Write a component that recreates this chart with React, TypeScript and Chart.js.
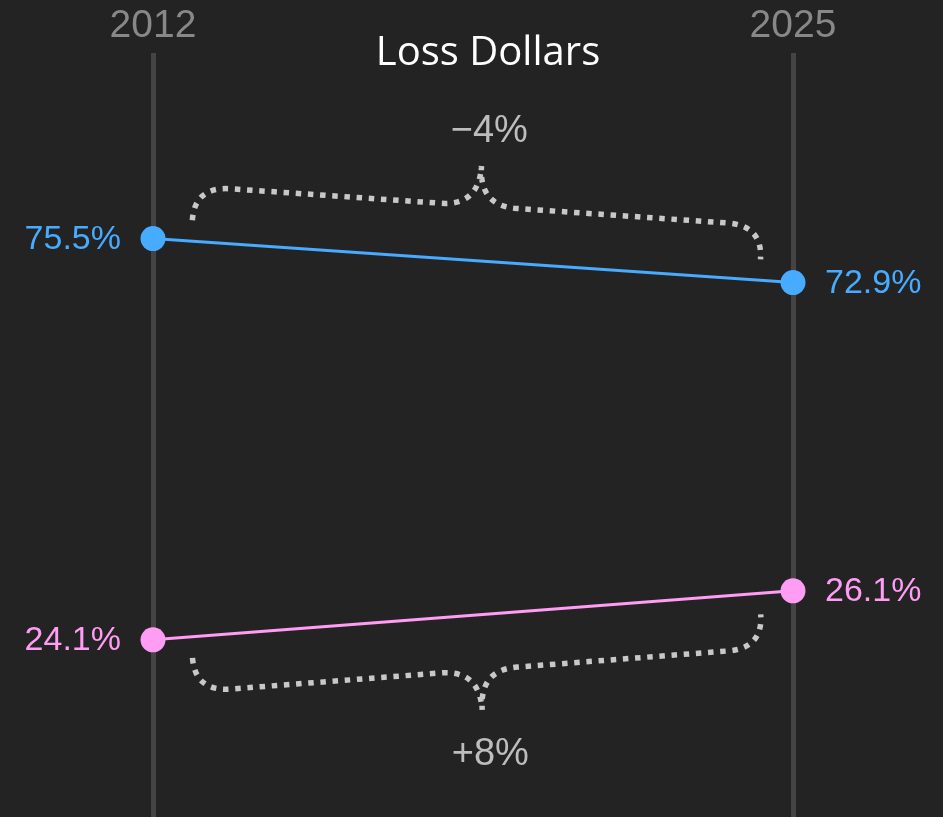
import React, { useEffect, useRef } from 'react';
import { Chart, registerables } from 'chart.js';

Chart.register(...registerables);

// ---- data ----
const years = ['2012', '2025'];
const seriesNames = ['Upper share', 'Lower share'];
const blueValues = [75.5, 72.9];
const pinkValues = [24.1, 26.1];
const changeLabels = ['\u22124%', '+8%'];
const chartTitle = 'Loss Dollars';

// ---- styles ----
const BG = '#232323';
const seriesColors = ['#47abff', '#ff9cf3'];
const seriesValues = [blueValues, pinkValues];
const braceSides = [-1, 1]; // -1: brace above the line, 1: below
const yLeftRange = [1.4, 99.3];
const yRightRange = [-8.25, 107.8];

function drawBrace(ctx: CanvasRenderingContext2D, P: any, Q: any, side: number, label: string) {
  const dx = Q.x - P.x;
  const dy = Q.y - P.y;
  const len = Math.hypot(dx, dy);
  const ux = dx / len;
  const uy = dy / len;
  const nx = side < 0 ? uy : -uy;
  const ny = side < 0 ? -ux : ux;
  const off = 21;
  const A = { x: P.x + ux * 38 + nx * off, y: P.y + uy * 38 + ny * off };
  const B = { x: Q.x - ux * 34 + nx * off, y: Q.y - uy * 34 + ny * off };
  const L = Math.hypot(B.x - A.x, B.y - A.y);
  const cx = (B.x - A.x) / L;
  const cy = (B.y - A.y) / L;
  const pt = (s: number, t: number): [number, number] => [A.x + cx * s + nx * t, A.y + cy * s + ny * t];
  const h1 = 34;
  const h2 = 74;
  const r = 36;
  const r2 = 38;
  ctx.save();
  ctx.strokeStyle = '#c8c8c8';
  ctx.lineWidth = 5.5;
  ctx.lineCap = 'butt';
  ctx.setLineDash([5.5, 6.7]);
  ctx.beginPath();
  ctx.moveTo(...pt(0, 0));
  ctx.quadraticCurveTo(...pt(0, h1), ...pt(r, h1));
  ctx.lineTo(...pt(L / 2 - r2, h1));
  ctx.quadraticCurveTo(...pt(L / 2, h1), ...pt(L / 2, h2));
  ctx.quadraticCurveTo(...pt(L / 2, h1), ...pt(L / 2 + r2, h1));
  ctx.lineTo(...pt(L - r, h1));
  ctx.quadraticCurveTo(...pt(L, h1), ...pt(L, 0));
  ctx.stroke();
  ctx.setLineDash([]);
  const [lx, ly] = pt(L / 2, h2 + 40);
  ctx.fillStyle = '#bdbdbd';
  ctx.font = '38px "Liberation Sans", Arial, sans-serif';
  ctx.textAlign = 'center';
  ctx.textBaseline = 'middle';
  ctx.fillText(label, lx + 5, ly + 5);
  ctx.restore();
}

const slopePlugin = {
  id: 'slopeDecor',
  beforeDraw(chart: any) {
    const ctx = chart.ctx;
    ctx.save();
    ctx.fillStyle = BG;
    ctx.fillRect(0, 0, chart.width, chart.height);
    ctx.restore();
  },
  beforeDatasetsDraw(chart: any) {
    const ctx = chart.ctx;
    seriesValues.forEach((_, s) => {
      const p0 = chart.getDatasetMeta(s * 2).data[0];
      const p1 = chart.getDatasetMeta(s * 2 + 1).data[0];
      ctx.save();
      ctx.strokeStyle = seriesColors[s];
      ctx.lineWidth = 3;
      ctx.beginPath();
      ctx.moveTo(p0.x, p0.y);
      ctx.lineTo(p1.x, p1.y);
      ctx.stroke();
      ctx.restore();
    });
  },
  afterDatasetsDraw(chart: any) {
    const ctx = chart.ctx;
    seriesValues.forEach((vals, s) => {
      const p0 = chart.getDatasetMeta(s * 2).data[0];
      const p1 = chart.getDatasetMeta(s * 2 + 1).data[0];
      ctx.save();
      ctx.fillStyle = seriesColors[s];
      ctx.font = '34px "Liberation Sans", Arial, sans-serif';
      ctx.textBaseline = 'middle';
      ctx.textAlign = 'right';
      ctx.fillText(vals[0].toFixed(1) + '%', p0.x - 32, p0.y + 1);
      ctx.textAlign = 'left';
      ctx.fillText(vals[1].toFixed(1) + '%', p1.x + 32, p1.y + 1);
      ctx.restore();
      drawBrace(ctx, p0, p1, braceSides[s], changeLabels[s]);
    });
    const area = chart.chartArea;
    ctx.save();
    ctx.fillStyle = '#ffffff';
    ctx.font = '40px "Open Sans", "Noto Sans", sans-serif';
    ctx.textAlign = 'center';
    ctx.textBaseline = 'middle';
    ctx.fillText(chartTitle, (area.left + area.right) / 2 + 15, 54);
    ctx.restore();
  },
};

export default function App() {
  const canvasRef = useRef<HTMLCanvasElement | null>(null);

  useEffect(() => {
    const canvas = canvasRef.current;
    if (!canvas) return;
    const datasets: any[] = [];
    seriesValues.forEach((vals, s) => {
      vals.forEach((v, j) => {
        datasets.push({
          label: `${seriesNames[s]} ${years[j]}`,
          data: [{ x: j, y: v }],
          yAxisID: j === 0 ? 'yL' : 'yR',
          backgroundColor: seriesColors[s],
          borderColor: seriesColors[s],
          pointRadius: 12.5,
          pointBorderWidth: 0,
          showLine: false,
          clip: false,
        });
      });
    });
    const chart = new Chart(canvas, {
      type: 'scatter',
      data: { datasets },
      plugins: [slopePlugin],
      options: {
        animation: false,
        responsive: false,
        devicePixelRatio: 1,
        layout: { autoPadding: false, padding: { left: 153, right: 150, top: 0, bottom: 0 } },
        plugins: {
          legend: { display: false },
          tooltip: { enabled: false },
          title: { display: false },
        },
        scales: {
          x: {
            type: 'linear',
            position: 'top',
            min: 0,
            max: 1,
            afterBuildTicks: (scale: any) => {
              scale.ticks = years.map((_, i) => ({ value: i }));
            },
            ticks: {
              callback: (_v: any, i: number) => years[i],
              color: '#888888',
              font: { family: '"Liberation Sans", Arial, sans-serif', size: 39 },
              padding: 3,
              maxRotation: 0,
              autoSkip: false,
            },
            grid: { color: '#444444', lineWidth: 5, drawTicks: false },
            border: { display: false },
          },
          yL: { display: false, min: yLeftRange[0], max: yLeftRange[1] },
          yR: { display: false, min: yRightRange[0], max: yRightRange[1] },
        },
      } as any,
    });
    return () => chart.destroy();
  }, []);

  return (
    <div style={{ position: 'fixed', left: 0, top: 0, width: 943, height: 817, background: BG }}>
      <canvas ref={canvasRef} width={943} height={817} style={{ display: 'block' }} />
    </div>
  );
}
